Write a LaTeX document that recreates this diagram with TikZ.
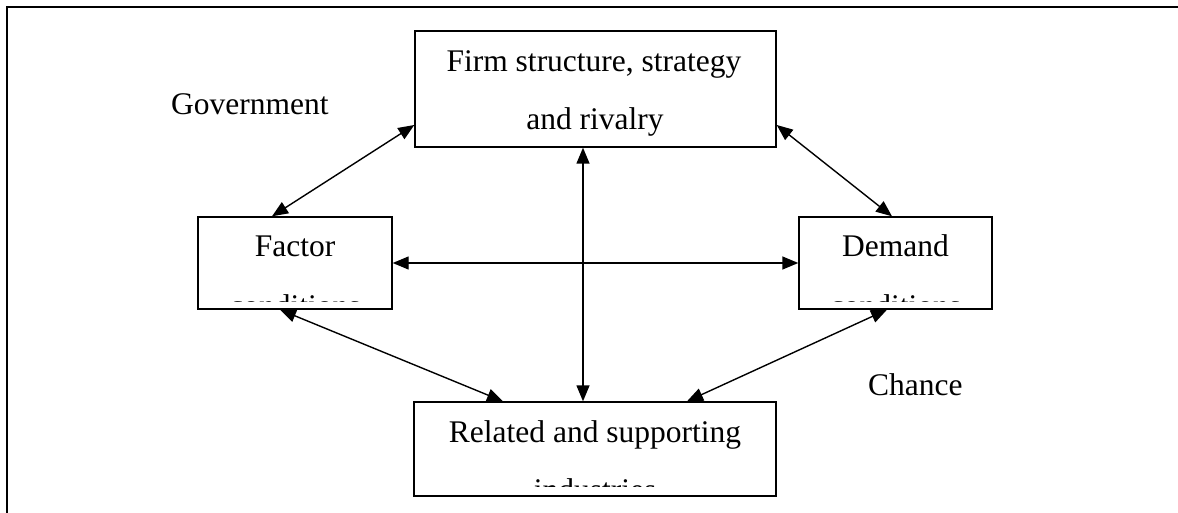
\documentclass[tikz,border=0pt]{standalone}
\usepackage{fontspec}
\setmainfont{Liberation Serif}
\usetikzlibrary{arrows.meta,calc}
\begin{document}
\begin{tikzpicture}[x=1pt,y=-1pt,
  box/.style={draw, line width=1.4pt, inner sep=0pt},
  lbl/.style={font=\fontsize{31.5}{38}\selectfont, anchor=base, inner sep=0pt},
  link/.style={line width=1.4pt, {Triangle[length=16pt,width=13pt]}-{Triangle[length=16pt,width=13pt]}}]
\useasboundingbox (0,0) rectangle (1178,513);

% outer frame (top and left edges)
\draw[line width=2.2pt] (7,513) -- (7,7) -- (1178,7);

% the four determinants
\node[box, minimum width=361pt, minimum height=116pt] (firm)    at (595.5,89)  {};
\node[box, minimum width=194pt, minimum height=92pt]  (factor)  at (295,263)   {};
\node[box, minimum width=193pt, minimum height=92pt]  (demand)  at (895.5,263) {};
\node[box, minimum width=362pt, minimum height=94pt]  (related) at (595,449)   {};

% box texts (second lines run past the box and are cut off)
\node[lbl] (firmA) at (594,72)  {Firm structure, strategy};
\node[lbl] (firmB) at (595,130) {and rivalry};
\node[lbl] (factorA) at (295,257) {Factor};
\node[lbl] (demandA) at (895.5,257) {Demand};
\node[lbl] (relatedA) at (595,442) {Related and supporting};
\begin{scope}
  \clip (factor.north west) rectangle ([yshift=8pt]factor.south east);
  \node[lbl] (factorB) at (295,316) {conditions};
\end{scope}
\begin{scope}
  \clip (demand.north west) rectangle ([yshift=8pt]demand.south east);
  \node[lbl] (demandB) at (895.5,316) {conditions};
\end{scope}
\begin{scope}
  \clip (related.north west) rectangle ([yshift=10pt]related.south east);
  \node[lbl] (relatedB) at (595,500) {industries};
\end{scope}

% outside influences
\node[lbl, anchor=base west] (gov) at (171,115) {Government};
\node[lbl, anchor=base west] (chance) at (868,395) {Chance};

% two-way links
\draw[link] ([yshift=-36pt]firm.west) -- ([xshift=-23pt]factor.north);
\draw[link] ([yshift=-36pt]firm.east) -- ([xshift=-3.5pt]demand.north);
\draw[link] ([xshift=-12.5pt]firm.south) -- ([xshift=-12pt]related.north);
\draw[link] (factor.east) -- (demand.west);
\draw[link] ([xshift=-15pt]factor.south) -- ([xshift=-92pt]related.north);
\draw[link] ([xshift=-8.5pt]demand.south) -- ([xshift=92pt]related.north);
\end{tikzpicture}
\end{document}
